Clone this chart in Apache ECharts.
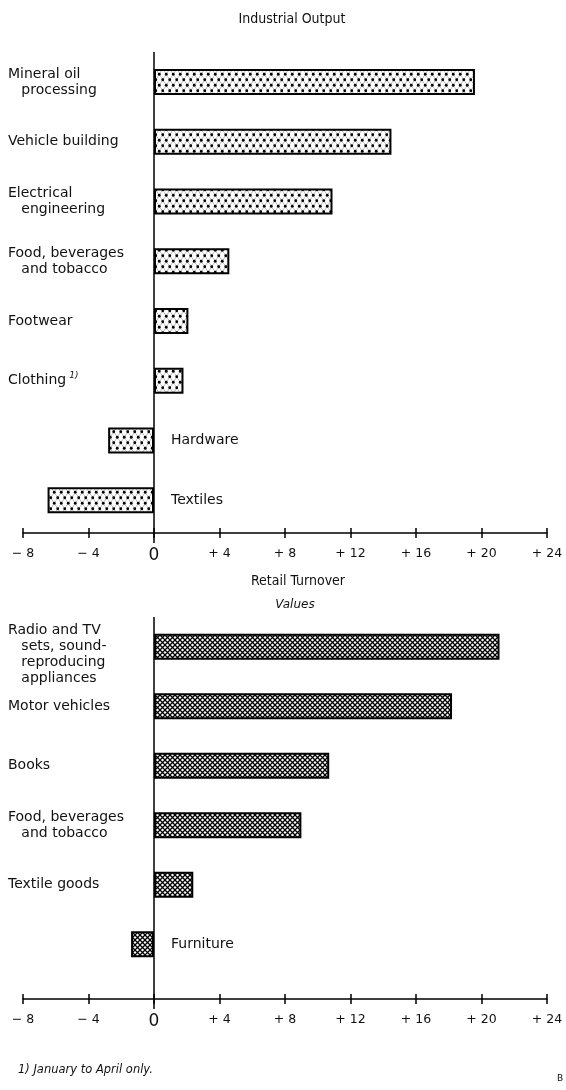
<!DOCTYPE html>
<html>
<head>
<meta charset="utf-8">
<script src="https://cdn.jsdelivr.net/npm/echarts@6/dist/echarts.min.js"></script>
<style>
  html, body { margin: 0; padding: 0; background: #fff; }
  #chart { width: 566px; height: 1090px; }
</style>
</head>
<body>
<div id="chart"></div>
<script>
// Industrial output, change in %
const industryNames = ['Mineral oil\nprocessing', 'Vehicle building', 'Electrical\nengineering',
  'Food, beverages\nand tobacco', 'Footwear', 'Clothing', 'Hardware', 'Textiles']
const industryValues = [19.6, 14.5, 10.9, 4.6, 2.1, 1.8, -2.8, -6.5]

// Retail turnover (values), change in %
const retailNames = ['Radio and TV\nsets, sound-\nreproducing\nappliances', 'Motor vehicles', 'Books',
  'Food, beverages\nand tobacco', 'Textile goods', 'Furniture']
const retailValues = [21.1, 18.2, 10.7, 9.0, 2.4, -1.4]

const axisMin = -8
const axisMax = 24
const axisStep = 4

const FONT = 'DejaVu Sans'

function makePattern(kind) {
  const c = document.createElement('canvas')
  const ctx = c.getContext('2d')
  if (kind === 'dots') {
    c.width = 7; c.height = 11
    ctx.fillStyle = '#fff'
    ctx.fillRect(0, 0, 7, 11)
    // faint mesh between the dots
    ctx.strokeStyle = 'rgba(0,0,0,0.35)'
    ctx.lineWidth = 0.8
    ctx.beginPath()
    ctx.moveTo(1.75, 2.75); ctx.lineTo(5.25, 8.25)
    ctx.moveTo(5.25, 8.25); ctx.lineTo(8.75, 13.75)
    ctx.moveTo(-1.75, -2.75); ctx.lineTo(1.75, 2.75)
    ctx.moveTo(1.75, 2.75); ctx.lineTo(-1.75, 8.25)
    ctx.moveTo(5.25, -2.75); ctx.lineTo(1.75, 2.75)
    ctx.moveTo(8.75, 2.75); ctx.lineTo(5.25, 8.25)
    ctx.moveTo(5.25, 8.25); ctx.lineTo(1.75, 13.75)
    ctx.stroke()
    ctx.fillStyle = '#000'
    ;[[1.75, 2.75], [5.25, 8.25]].forEach(p => {
      ctx.beginPath()
      ctx.arc(p[0], p[1], 1.4, 0, Math.PI * 2)
      ctx.fill()
    })
  } else {
    c.width = 5; c.height = 5
    ctx.fillStyle = '#fff'
    ctx.fillRect(0, 0, 5, 5)
    ctx.strokeStyle = '#000'
    ctx.lineWidth = 1.3
    ctx.beginPath()
    ctx.moveTo(-1, -1); ctx.lineTo(6, 6)
    ctx.moveTo(6, -1); ctx.lineTo(-1, 6)
    ctx.stroke()
  }
  return c
}

function tickText(v) {
  if (v === 0) return '{z|0}'
  return v < 0 ? '− ' + (-v) : '+ ' + v
}

// first line flush, following lines indented; long blocks sit a bit lower
function indent(name) {
  const lines = name.split('\n').map((l, i) => (i ? '   ' : '') + l)
  return (lines.length > 2 ? '\n' : '') + lines.join('\n')
}

function leftLabel(values) {
  return function (name, idx) {
    if (values[idx] < 0) return ''
    if (name === 'Clothing') return 'Clothing{sup|1)}'
    return indent(name)
  }
}
function rightLabel(values) {
  return function (name, idx) {
    return values[idx] < 0 ? name : ''
  }
}

const labelStyle = { fontFamily: FONT, fontSize: 14, lineHeight: 16, color: '#111' }

function xAxes(gridIndex, offset) {
  return [{
    gridIndex: gridIndex, type: 'value', position: 'bottom', offset: offset,
    min: axisMin, max: axisMax, interval: axisStep,
    axisLine: { show: true, onZero: false, lineStyle: { color: '#000', width: 1.5 } },
    axisTick: { show: true, length: 5, lineStyle: { color: '#000', width: 1.5 } },
    splitLine: { show: false },
    axisLabel: {
      margin: 14, formatter: tickText, fontFamily: FONT, fontSize: 12.5, color: '#111',
      rich: { z: { fontFamily: FONT, fontSize: 17, color: '#111' } }
    }
  }, {
    gridIndex: gridIndex, type: 'value', position: 'bottom', offset: offset,
    min: axisMin, max: axisMax, interval: axisStep,
    axisLine: { show: false, onZero: false },
    axisTick: { show: true, inside: true, length: 5, lineStyle: { color: '#000', width: 1.5 } },
    splitLine: { show: false },
    axisLabel: { show: false }
  }]
}

function yAxes(gridIndex, names, values) {
  return [{
    gridIndex: gridIndex, type: 'category', data: names, inverse: true, position: 'left',
    axisLine: { show: false, onZero: false }, axisTick: { show: false },
    axisLabel: Object.assign({
      margin: 15, align: 'left', formatter: leftLabel(values),
      rich: { sup: { fontFamily: FONT, fontSize: 9, fontStyle: 'italic', color: '#111', padding: [0, 0, 9, 3] } }
    }, labelStyle)
  }, {
    // labels of falling branches, right of the zero line (offset set below)
    gridIndex: gridIndex, type: 'category', data: names, inverse: true, position: 'right', offset: 0,
    axisLine: { show: false, onZero: false }, axisTick: { show: false },
    axisLabel: Object.assign({ margin: 17, align: 'left', formatter: rightLabel(values) }, labelStyle)
  }]
}

const dotFill = { image: makePattern('dots'), repeat: 'repeat' }
const hatchFill = { image: makePattern('hatch'), repeat: 'repeat' }

const chart = echarts.init(document.getElementById('chart'))

const gridLeft = 23, gridRight = 19
const top1 = 52, h1 = 478, off1 = 3
const top2 = 617, h2 = 357, off2 = 25

chart.setOption({
  animation: false,
  backgroundColor: '#fff',
  grid: [
    { left: gridLeft, right: gridRight, top: top1, height: h1, outerBoundsMode: 'none' },
    { left: gridLeft, right: gridRight, top: top2, height: h2, outerBoundsMode: 'none' }
  ],
  xAxis: xAxes(0, off1).concat(xAxes(1, off2)),
  yAxis: yAxes(0, industryNames, industryValues).concat(yAxes(1, retailNames, retailValues)),
  series: [{
    type: 'bar', xAxisIndex: 0, yAxisIndex: 0, data: industryValues, barWidth: 26,
    itemStyle: { color: dotFill, borderColor: '#000', borderWidth: 2 }
  }, {
    type: 'bar', xAxisIndex: 2, yAxisIndex: 2, data: retailValues, barWidth: 26,
    itemStyle: { color: hatchFill, borderColor: '#000', borderWidth: 2 }
  }]
})

// zero lines, right-hand labels and texts
const zx1 = chart.convertToPixel({ xAxisIndex: 0 }, 0)
const zx2 = chart.convertToPixel({ xAxisIndex: 2 }, 0)
const rightEdge = 566 - gridRight
chart.setOption({
  yAxis: [{}, { offset: zx1 - rightEdge }, {}, { offset: zx2 - rightEdge }],
  graphic: [
    { type: 'line', shape: { x1: zx1, y1: top1, x2: zx1, y2: top1 + h1 + off1 + 10 }, style: { stroke: '#000', lineWidth: 1.5 } },
    { type: 'line', shape: { x1: zx2, y1: top2, x2: zx2, y2: top2 + h2 + off2 + 10 }, style: { stroke: '#000', lineWidth: 1.5 } },
    { type: 'text', x: 292, y: 19, style: { text: 'Industrial Output', font: '14px "DejaVu Sans Condensed"', fill: '#111', align: 'center', verticalAlign: 'middle' } },
    { type: 'text', x: 298, y: 581, style: { text: 'Retail Turnover', font: '14px "DejaVu Sans Condensed"', fill: '#111', align: 'center', verticalAlign: 'middle' } },
    { type: 'text', x: 295, y: 605, style: { text: 'Values', font: 'italic 12px "DejaVu Sans"', fill: '#111', align: 'center', verticalAlign: 'middle' } },
    { type: 'text', x: 18, y: 1070, style: { text: '1) January to April only.', font: 'italic 11.5px "DejaVu Sans"', fill: '#111', align: 'left', verticalAlign: 'middle' } },
    { type: 'text', x: 560, y: 1079, style: { text: 'B', font: '9px "DejaVu Sans"', fill: '#111', align: 'center', verticalAlign: 'middle' } }
  ]
})
</script>
</body>
</html>
